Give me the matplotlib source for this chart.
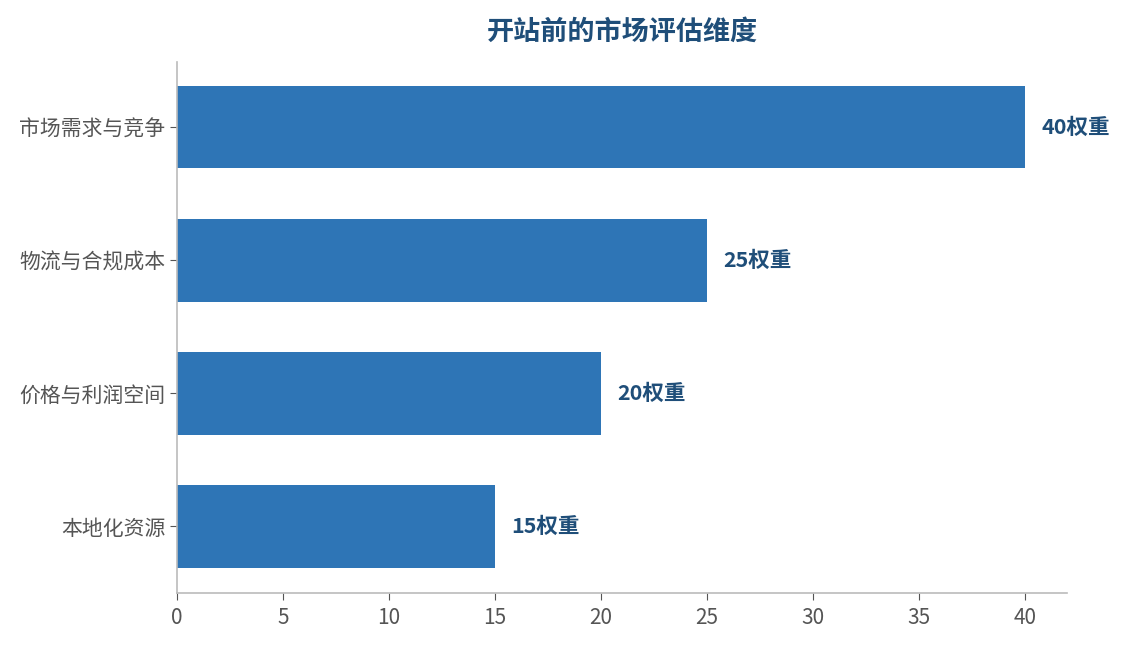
import matplotlib
matplotlib.use("Agg")
import matplotlib.pyplot as plt

plt.rcParams['font.family'] = ['Noto Sans CJK SC', 'DejaVu Sans']

categories = ["市场需求与竞争", "物流与合规成本", "价格与利润空间", "本地化资源"]
weights = [40, 25, 20, 15]
label_suffix = "权重"

bar_color = "#2E75B6"
dark_blue = "#1F4E79"

fig = plt.figure(figsize=(11.24, 6.45), dpi=100)
ax = fig.add_axes([0.1575, 0.0806, 0.7918, 0.8234])

ypos = list(range(len(categories)))
ax.barh(ypos, weights, height=0.62, color=bar_color)
ax.set_yticks(ypos)
ax.set_yticklabels(categories)
ax.invert_yaxis()
ax.set_ylim(3.5, -0.49)
ax.set_xlim(0, 42)
ax.set_xticks(range(0, 41, 5))

for y, w in zip(ypos, weights):
    ax.annotate(f"{w}{label_suffix}", xy=(w, y), xytext=(12, 0),
                textcoords="offset points", ha="left", va="center",
                fontsize=15.5, fontweight="bold", color=dark_blue)

ax.set_title("开站前的市场评估维度", fontsize=19.5, fontweight="bold",
             color=dark_blue, pad=16)

for side in ["top", "right"]:
    ax.spines[side].set_visible(False)
for side in ["left", "bottom"]:
    ax.spines[side].set_color("#BBBBBB")
    ax.spines[side].set_linewidth(1.2)

ax.tick_params(axis="both", colors="#555555", labelsize=15, length=5)
ax.tick_params(axis="x", pad=5)

fig.savefig("out.png", dpi=100)
